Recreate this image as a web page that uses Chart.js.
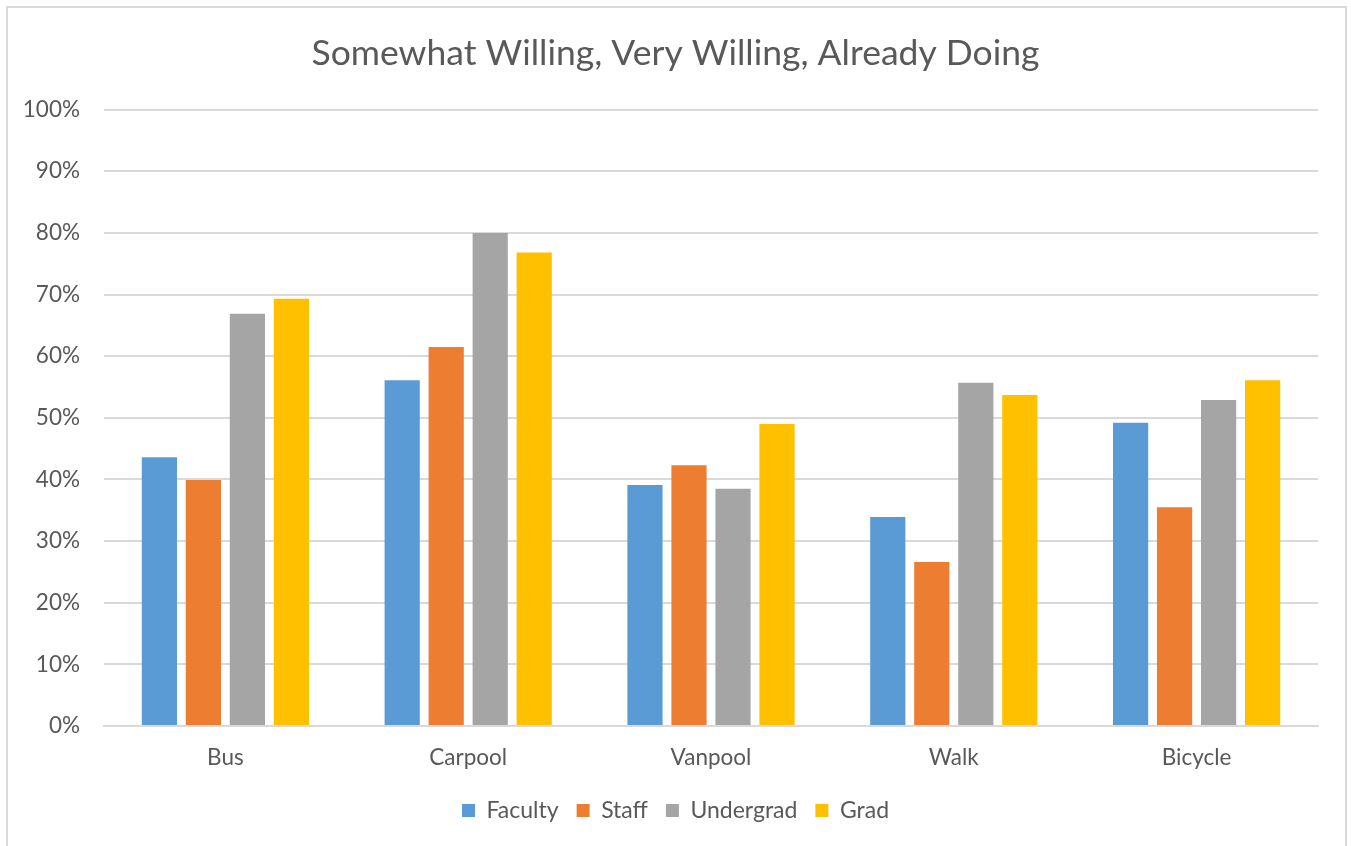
<!DOCTYPE html>
<html>
<head>
<meta charset="utf-8">
<script src="https://cdn.jsdelivr.net/npm/chart.js@4"></script>
<style>
  html, body { margin: 0; padding: 0; background: #fff; }
  #marco { position: absolute; left: 6px; top: 6px; width: 1341px; height: 860px; border: 2px solid #d9d9d9; box-sizing: border-box; }
  #lienzo { position: absolute; left: 0; top: 0; width: 1351px; height: 846px; }
</style>
</head>
<body>
<div id="marco"></div>
<div id="lienzo"><canvas id="miGrafica" width="1351" height="846"></canvas></div>
<script>
const etiquetas = ['Bus', 'Carpool', 'Vanpool', 'Walk', 'Bicycle'];

const datosFaculty = [43.6, 56.1, 39.1, 33.9, 49.2];
const datosStaff = [39.9, 61.5, 42.3, 26.6, 35.5];
const datosUndergrad = [66.9, 80.0, 38.5, 55.7, 52.9];
const datosGrad = [69.3, 76.8, 49.0, 53.7, 56.1];

const colorTexto = '#595959';
const fuente = 'Lato, "Open Sans", sans-serif';

const ctx = document.getElementById('miGrafica').getContext('2d');

new Chart(ctx, {
    type: 'bar',
    data: {
        labels: etiquetas,
        datasets: [
            { label: 'Faculty', data: datosFaculty, backgroundColor: '#5B9BD5' },
            { label: 'Staff', data: datosStaff, backgroundColor: '#ED7D31' },
            { label: 'Undergrad', data: datosUndergrad, backgroundColor: '#A5A5A5' },
            { label: 'Grad', data: datosGrad, backgroundColor: '#FFC000' }
        ]
    },
    options: {
        responsive: false,
        animation: false,
        categoryPercentage: 0.725,
        barPercentage: 0.8,
        layout: { padding: { left: 10, right: 10, top: 10, bottom: 14 } },
        plugins: {
            title: {
                display: true,
                text: 'Somewhat Willing, Very Willing, Already Doing',
                color: colorTexto,
                font: { family: fuente, size: 35.5, weight: 'normal' },
                padding: { top: 22, bottom: 35 }
            },
            legend: {
                position: 'bottom',
                labels: {
                    color: colorTexto,
                    font: { family: fuente, size: 23 },
                    boxWidth: 13,
                    boxHeight: 13,
                    padding: 18
                }
            },
            tooltip: { enabled: false }
        },
        scales: {
            x: {
                grid: { display: false },
                border: { color: '#d9d9d9', width: 2 },
                ticks: { color: colorTexto, font: { family: fuente, size: 22.5 }, padding: 10 }
            },
            y: {
                min: 0,
                max: 100,
                ticks: {
                    stepSize: 10,
                    color: colorTexto,
                    font: { family: fuente, size: 22.5 },
                    padding: 24,
                    callback: v => v + '%'
                },
                grid: { color: '#d9d9d9', lineWidth: 2, drawTicks: false },
                border: { display: false },
                afterFit: function (escala) { escala.width = 94; }
            },
            margenDerecho: {
                position: 'right',
                min: 0,
                max: 100,
                ticks: { display: false },
                grid: { display: false },
                border: { display: false },
                afterFit: function (escala) { escala.width = 23; }
            }
        }
    }
});
</script>
</body>
</html>
